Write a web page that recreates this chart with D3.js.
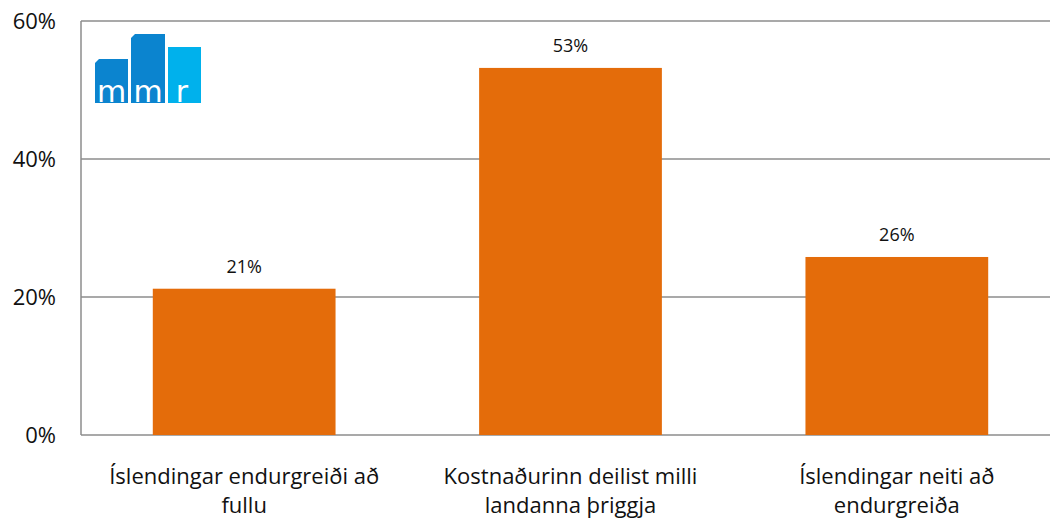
<!DOCTYPE html>
<html>
<head>
<meta charset="utf-8">
<script src="https://cdn.jsdelivr.net/npm/d3@7"></script>
<style>
  body { margin: 0; background: #fff; }
  svg { display: block; font-family: "Open Sans", Lato, sans-serif; }
</style>
</head>
<body>
<svg id="chart" width="1050" height="524"></svg>
<script>
// data
var categories = [
    ["Íslendingar endurgreiði að", "fullu"],
    ["Kostnaðurinn deilist milli", "landanna þriggja"],
    ["Íslendingar neiti að", "endurgreiða"]
];
var values = [21.2, 53.2, 25.8];
var valueLabels = ["21%", "53%", "26%"];
var yTicks = [0, 20, 40, 60];

var svg = d3.select("#chart");
var plotLeft = 81, plotRight = 1060, plotTop = 21, plotBottom = 435;

var x = d3.scaleBand()
    .domain(d3.range(categories.length))
    .range([plotLeft, plotRight])
    .paddingInner(0.44)
    .paddingOuter(0.22);

var y = d3.scaleLinear()
    .domain([0, 60])
    .range([plotBottom, plotTop]);

// gridlines
svg.append("g").selectAll("line")
    .data(yTicks)
    .enter().append("line")
    .attr("x1", plotLeft)
    .attr("x2", 1050)
    .attr("y1", function(d){ return y(d); })
    .attr("y2", function(d){ return y(d); })
    .attr("stroke", "#8c8c8c")
    .attr("stroke-width", 1.5);

// left axis line
svg.append("line")
    .attr("x1", plotLeft).attr("x2", plotLeft)
    .attr("y1", plotTop).attr("y2", plotBottom)
    .attr("stroke", "#8c8c8c")
    .attr("stroke-width", 1.5);

// y tick labels
svg.append("g").selectAll("text")
    .data(yTicks)
    .enter().append("text")
    .attr("x", 56)
    .attr("y", function(d){ return y(d); })
    .attr("dy", "0.35em")
    .attr("text-anchor", "end")
    .style("font-size", "22px")
    .attr("fill", "#111")
    .text(function(d){ return d + "%"; });

// logo
var logo = svg.append("g");
logo.append("path").attr("d", "M95,63 L99,59 L128,59 L128,103 L95,103 Z").attr("fill", "#0b84cf");
logo.append("path").attr("d", "M131,38 L135,34 L165,34 L165,103 L131,103 Z").attr("fill", "#0b84cf");
logo.append("rect").attr("x", 168).attr("y", 47).attr("width", 33).attr("height", 56).attr("fill", "#00b1ec");
logo.selectAll("text.lg")
    .data([["m", 111.5], ["m", 148], ["r", 182]])
    .enter().append("text")
    .attr("class", "lg")
    .attr("x", function(d){ return d[1]; })
    .attr("y", 102)
    .attr("text-anchor", "middle")
    .attr("fill", "#fff")
    .style("font-size", "30px")
    .style("font-family", "'DejaVu Sans', sans-serif")
    .text(function(d){ return d[0]; });

// bars
svg.append("g").selectAll("rect")
    .data(values)
    .enter().append("rect")
    .attr("x", function(d, i){ return x(i); })
    .attr("y", function(d){ return y(d); })
    .attr("width", x.bandwidth())
    .attr("height", function(d){ return y(0) - y(d); })
    .attr("fill", "#e46c0a");

// value labels
svg.append("g").selectAll("text")
    .data(values)
    .enter().append("text")
    .attr("x", function(d, i){ return x(i) + x.bandwidth() / 2; })
    .attr("y", function(d){ return y(d) - 16; })
    .attr("text-anchor", "middle")
    .style("font-size", "18px")
    .attr("fill", "#111")
    .text(function(d, i){ return valueLabels[i]; });

// category labels
var cat = svg.append("g").selectAll("text")
    .data(categories)
    .enter().append("text")
    .attr("text-anchor", "middle")
    .style("font-size", "22px")
    .attr("fill", "#111");
cat.each(function(lines, i){
    var t = d3.select(this);
    lines.forEach(function(l, j){
        t.append("tspan")
            .attr("x", x(i) + x.bandwidth() / 2)
            .attr("y", 484 + j * 29)
            .text(l);
    });
});
</script>
</body>
</html>
